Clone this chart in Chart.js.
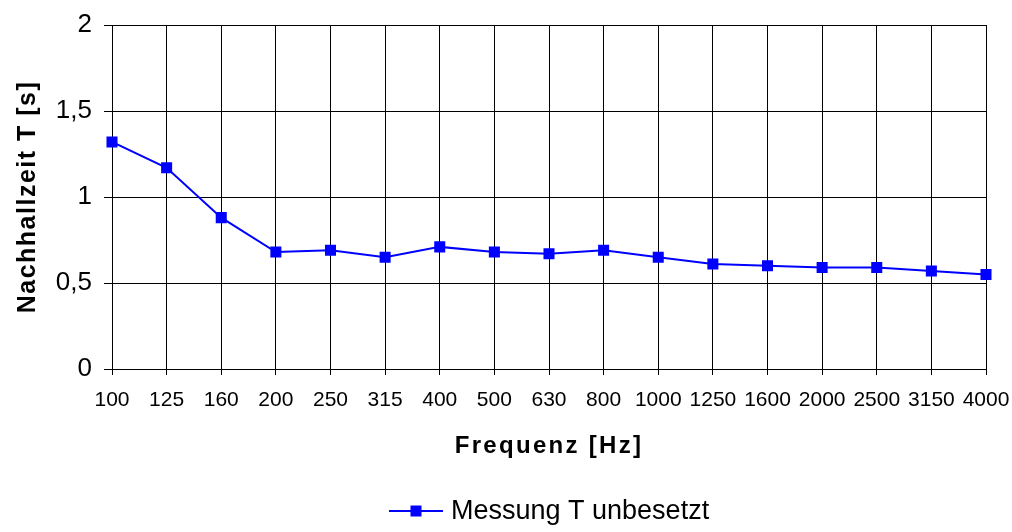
<!DOCTYPE html>
<html>
<head>
<meta charset="utf-8">
<script src="https://cdn.jsdelivr.net/npm/chart.js@4/dist/chart.umd.min.js"></script>
<style>
  html, body { margin: 0; padding: 0; background: #fff; }
  #wrap { width: 1012px; height: 532px; }
</style>
</head>
<body>
<div id="wrap"><canvas id="chart"></canvas></div>
<script>
const frequencies = ['100', '125', '160', '200', '250', '315', '400', '500', '630', '800',
  '1000', '1250', '1600', '2000', '2500', '3150', '4000'];
const messungT = [1.32, 1.17, 0.88, 0.68, 0.69, 0.65, 0.71, 0.68, 0.67, 0.69,
  0.65, 0.61, 0.60, 0.59, 0.59, 0.57, 0.55];
const yTicks = [0, 0.5, 1, 1.5, 2];

const blue = '#0000ff';
const fontFamily = '"Liberation Sans", Arial, sans-serif';

// titles in the original are slightly letter-spaced
const spacedTitles = {
  id: 'spacedTitles',
  afterLayout(chart) {
    for (const id of ['x', 'y']) {
      const s = chart.scales[id];
      if (s._spaced) continue;
      const orig = s.drawTitle;
      const sp = id === 'x' ? '2.3px' : '1.5px';
      s.drawTitle = function () {
        this.ctx.save();
        this.ctx.letterSpacing = sp;
        orig.call(this);
        this.ctx.restore();
      };
      s._spaced = true;
    }
  }
};

// legend: line with a square in the middle, like the spreadsheet one
const lineLegend = {
  id: 'lineLegend',
  afterDraw(chart) {
    const ctx = chart.ctx;
    const ds = chart.data.datasets[0];
    const area = chart.chartArea;
    ctx.save();
    ctx.font = '27px ' + fontFamily;
    const tw = ctx.measureText(ds.label).width;
    const lineW = 54, gap = 8;
    const x0 = Math.round((area.left + area.right) / 2 - (lineW + gap + tw) / 2);
    const y = 511;
    ctx.strokeStyle = ds.borderColor;
    ctx.lineWidth = 2;
    ctx.beginPath();
    ctx.moveTo(x0, y);
    ctx.lineTo(x0 + lineW, y);
    ctx.stroke();
    ctx.fillStyle = ds.pointBackgroundColor;
    ctx.fillRect(x0 + lineW / 2 - 5.5, y - 5.5, 11, 11);
    ctx.fillStyle = '#000';
    ctx.textBaseline = 'middle';
    ctx.fillText(ds.label, x0 + lineW + gap, y + 1);
    ctx.restore();
  }
};

new Chart(document.getElementById('chart'), {
  type: 'line',
  data: {
    labels: frequencies,
    datasets: [{
      label: 'Messung T unbesetzt',
      data: messungT,
      borderColor: blue,
      backgroundColor: blue,
      pointBackgroundColor: blue,
      pointBorderColor: blue,
      borderWidth: 2,
      pointStyle: 'rect',
      pointRadius: 7.8,
      pointBorderWidth: 0,
      tension: 0
    }]
  },
  options: {
    responsive: true,
    maintainAspectRatio: false,
    animation: false,
    layout: { padding: { top: 25, right: 26, left: 0, bottom: 0 } },
    plugins: {
      legend: { display: false },
      tooltip: { enabled: false }
    },
    scales: {
      x: {
        offset: false,
        afterFit(scale) {
          scale.height = 163;
          scale.paddingLeft = 0;
          scale.paddingRight = 0;
        },
        grid: {
          color: '#000',
          lineWidth: 1,
          tickLength: 6,
          tickColor: '#000'
        },
        border: { color: '#000', width: 1 },
        ticks: {
          color: '#000',
          font: { family: fontFamily, size: 21 },
          maxRotation: 0,
          autoSkip: false,
          padding: 13
        },
        title: {
          display: true,
          text: 'Frequenz [Hz]',
          color: '#000',
          font: { family: fontFamily, size: 24, weight: 'bold' },
          padding: { top: 0, bottom: 71 }
        }
      },
      y: {
        min: 0,
        max: 2,
        afterFit(scale) {
          scale.width = 112;
          scale.paddingTop = 0;
          scale.paddingBottom = 0;
        },
        afterBuildTicks(scale) { scale.ticks = yTicks.map(v => ({ value: v })); },
        grid: {
          color: '#000',
          lineWidth: 1,
          tickLength: 8,
          tickColor: '#000'
        },
        border: { color: '#000', width: 1 },
        ticks: {
          color: '#000',
          font: { family: fontFamily, size: 26 },
          padding: 12,
          callback: v => String(v).replace('.', ',')
        },
        title: {
          display: true,
          text: 'Nachhallzeit T [s]',
          color: '#000',
          font: { family: fontFamily, size: 25, weight: 'bold' },
          padding: { top: 13, bottom: 0 }
        }
      }
    }
  },
  plugins: [spacedTitles, lineLegend]
});
</script>
</body>
</html>
